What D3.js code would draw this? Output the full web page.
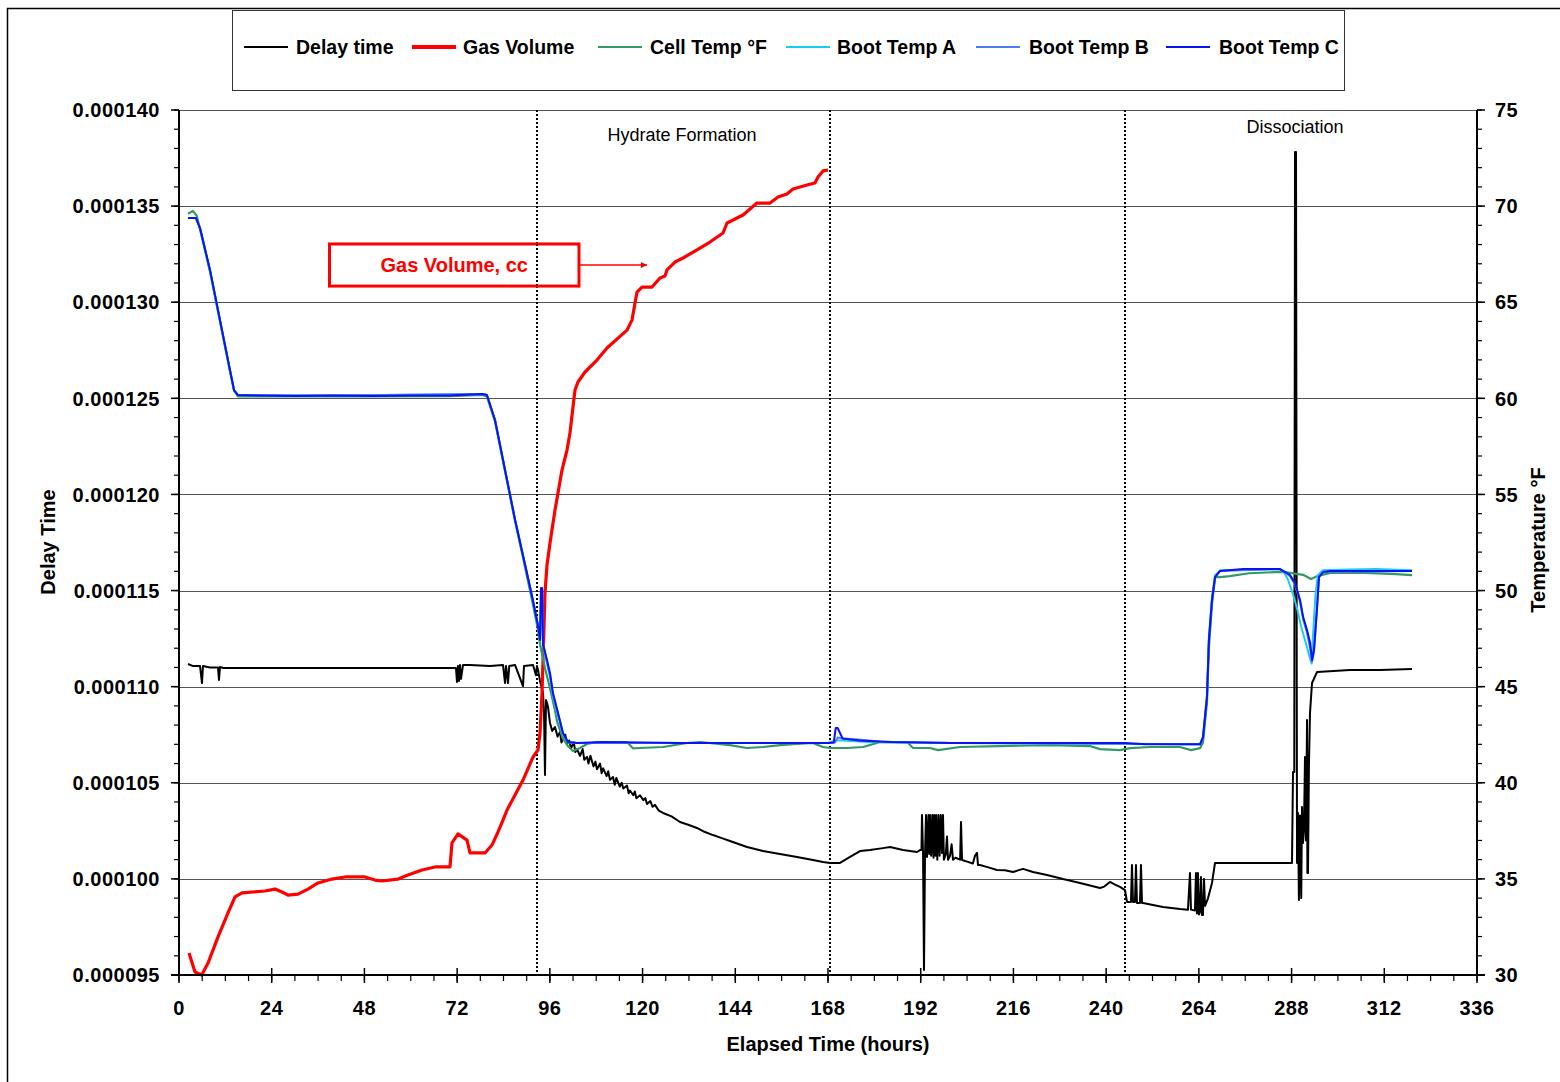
<!DOCTYPE html>
<html><head><meta charset="utf-8">
<script src="https://cdn.jsdelivr.net/npm/d3@7"></script>
<style>body{margin:0;background:#fff} svg{display:block} text{font-family:"Liberation Sans",Arial,sans-serif}</style>
</head><body><svg id="c" width="1560" height="1082"></svg>
<script>
// ---------- DATA ----------
const xTicks = [0,24,48,72,96,120,144,168,192,216,240,264,288,312,336];
const delayTicks = [95e-6,100e-6,105e-6,110e-6,115e-6,120e-6,125e-6,130e-6,135e-6,140e-6];
const tempTicks = [30,35,40,45,50,55,60,65,70,75];
const phaseLines = [92.67,168.64,244.88];
const seriesNames = ["Delay time","Gas Volume","Cell Temp °F","Boot Temp A","Boot Temp B","Boot Temp C"];
const seriesColors = ["#000000","#ff0000","#339966","#1ecbf0","#4f7cf5","#0a14f0"];

// [hours, delay time (s)]
const delayTime = [
[2.33,111.18e-6],[3.5,111.08e-6],[5.44,111.08e-6],[5.95,110.19e-6],[6.21,111.08e-6],[8,111.0e-6],[10.1,111.0e-6],[10.35,110.35e-6],[10.61,111.02e-6],[11.5,110.97e-6],[13.72,110.97e-6],[31.3,110.97e-6],[57.2,110.97e-6],[71.7,110.97e-6],[71.96,110.24e-6],[72.22,111.08e-6],[72.48,110.3e-6],[72.74,111.13e-6],[73.0,110.4e-6],[73.52,111.13e-6],[75.33,111.13e-6],[80.5,111.08e-6],[83.87,111.13e-6],[84.39,110.19e-6],[84.65,111.08e-6],[85.16,110.19e-6],[85.5,111.08e-6],[86.98,111.13e-6],[89.05,110.03e-6],[89.31,111.08e-6],[91.64,111.13e-6],[92.4,110.6e-6],[92.67,111.08e-6],[92.93,110.87e-6],[93.45,110.3e-6],[94.23,109.67e-6],[94.5,108.5e-6],[94.74,105.4e-6],[95.0,109.3e-6],[95.26,109.15e-6],[95.52,108.94e-6],
[96.04,108.11e-6],[96.6,107.7e-6],[97.33,107.9e-6],[98.0,107.4e-6],[98.63,107.65e-6],[99.0,107.1e-6],[99.4,107.3e-6],[100.0,107.5e-6],[100.44,107.0e-6],[101.0,107.2e-6],[101.5,106.8e-6],[102.2,107.1e-6],[102.6,106.6e-6],[103.03,106.75e-6],[103.8,106.4e-6],[104.5,106.75e-6],[104.9,106.2e-6],[105.62,106.35e-6],[106.0,106.0e-6],[106.5,106.4e-6],[107.3,105.85e-6],[107.8,106.1e-6],[108.2,105.7e-6],[109.0,106.0e-6],[109.4,105.5e-6],[109.8,105.75e-6],[110.7,105.35e-6],[111.1,105.6e-6],[111.57,105.15e-6],[112.35,105.3e-6],[112.8,104.9e-6],[113.2,105.25e-6],[114.1,104.8e-6],[114.6,105.0e-6],[115.0,104.7e-6],[115.97,104.85e-6],[116.4,104.45e-6],[116.74,104.6e-6],[117.6,104.35e-6],[118.0,104.55e-6],[118.4,104.2e-6],[119.33,104.35e-6],[120.2,104.1e-6],[120.7,104.2e-6],[121.15,103.9e-6],[122.0,104.05e-6],[122.6,103.75e-6],[123.2,103.85e-6],[124.2,103.55e-6],[125.29,103.43e-6],
[127.5,103.25e-6],[129.69,102.96e-6],[132.0,102.8e-6],[134.09,102.65e-6],[136.0,102.45e-6],[138.23,102.28e-6],[140.5,102.12e-6],[142.63,101.97e-6],[145.0,101.8e-6],[147.03,101.66e-6],[151.17,101.45e-6],[155.55,101.29e-6],[159.98,101.14e-6],[164.12,100.98e-6],[166.71,100.88e-6],[168.52,100.83e-6],[171.11,100.83e-6],[173.7,101.14e-6],[176.29,101.45e-6],[178.87,101.5e-6],[182.24,101.6e-6],[184.05,101.66e-6],[187.42,101.5e-6],[189.23,101.45e-6],[191.04,101.4e-6],[191.82,101.5e-6],
[192.2,101.5e-6],[192.33,103.32e-6],[192.6,101.4e-6],[192.85,95.26e-6],[193.11,101.2e-6],[193.37,103.32e-6],[193.63,101.14e-6],[194.0,103.32e-6],[194.2,101.3e-6],[194.4,103.32e-6],[194.7,101.2e-6],[195.0,103.32e-6],[195.3,101.1e-6],[195.5,103.32e-6],[195.8,101.2e-6],[196.0,103.32e-6],[196.3,101.0e-6],[196.6,103.32e-6],[196.9,101.2e-6],[197.2,103.32e-6],[197.5,101.35e-6],[197.77,103.32e-6],[198.0,101.0e-6],[198.5,101.3e-6],[198.8,102.2e-6],[199.06,101.0e-6],[199.58,101.2e-6],[200.0,101.8e-6],[200.36,101.0e-6],[201.0,101.1e-6],[202.2,101.0e-6],[202.43,102.96e-6],[202.7,100.98e-6],[204.0,100.9e-6],[205.5,100.8e-6],[206.05,101.2e-6],[206.57,101.35e-6],[206.83,100.72e-6],[207.35,100.72e-6],[209.5,100.6e-6],[211.74,100.46e-6],[213.8,100.45e-6],[215.89,100.36e-6],[218.48,100.52e-6],[221.07,100.36e-6],[224.69,100.2e-6],[228.83,99.99e-6],[233.23,99.79e-6],[238.41,99.53e-6],[239.5,99.6e-6],[240.99,99.84e-6],[242.3,99.7e-6],[243.58,99.58e-6],[244.88,99.42e-6],[245.4,98.8e-6],[246.43,98.8e-6],[246.69,100.72e-6],[246.95,98.8e-6],[247.46,98.8e-6],[247.72,100.72e-6],[247.98,98.75e-6],[248.76,98.75e-6],[249.02,100.72e-6],[249.28,98.75e-6],[249.54,98.75e-6],[254.71,98.54e-6],[259.11,98.43e-6],[261.18,98.4e-6],[261.7,100.31e-6],[261.96,98.4e-6],[262.99,98.35e-6],[263.25,100.31e-6],[263.5,98.2e-6],[263.77,100.31e-6],[264.03,98.15e-6],[264.3,98.3e-6],[264.55,100.1e-6],[264.8,98.12e-6],[265.07,98.12e-6],[265.33,100.0e-6],[265.6,98.6e-6],[266.36,98.99e-6],[267.4,99.79e-6],[268.18,100.83e-6],[270.0,100.83e-6],[277.24,100.83e-6],[287.6,100.83e-6],[288.11,100.83e-6],[288.37,105.56e-6],[288.7,105.56e-6],[288.89,137.82e-6],[289.15,137.82e-6],[289.41,100.83e-6],[289.67,103.43e-6],[289.9,98.9e-6],[290.18,103.3e-6],[290.5,99.0e-6],[290.7,103.74e-6],[290.96,101.87e-6],[291.2,102.5e-6],[291.48,106.34e-6],[291.74,102.0e-6],[292.0,108.27e-6],[292.1,100.31e-6],[292.25,100.31e-6],[292.5,106.0e-6],[292.77,108.63e-6],[293.29,110.19e-6],[294.58,110.76e-6],[303.12,110.87e-6],[310.89,110.87e-6],[319.17,110.92e-6]
];

// [hours, gas volume (cc), plotted on the secondary axis]
const gasVolume = [
[2.59,31.14],[4.14,30.16],[5.88,30.0],[7.51,30.62],[10.10,31.98],[12.68,33.23],[14.50,34.06],[16.31,34.27],[22.26,34.37],[24.85,34.47],[26.66,34.32],[28.22,34.16],[30.80,34.21],[33.39,34.47],[35.98,34.79],[39.61,34.99],[42.97,35.10],[48.15,35.10],[50.74,34.94],[52.55,34.89],[56.69,34.99],[59.28,35.20],[62.90,35.46],[66.27,35.62],[70.15,35.62],[70.67,36.87],[72.22,37.34],[74.55,37.02],[75.33,36.35],[79.21,36.35],[81.02,36.76],[82.58,37.44],[83.87,38.06],[84.91,38.58],[89.05,40.14],[91.64,41.34],[92.93,41.71],[93.45,42.59],[93.97,44.67],[94.23,46.39],[94.74,49.87],[95.26,51.33],[96.04,52.47],[97.33,54.19],[98.11,55.08],[99.14,56.27],[100.44,57.31],[101.21,58.20],[101.99,59.55],[102.51,60.43],[103.28,60.85],[105.10,61.37],[108.20,61.99],[110.79,62.62],[115.97,63.55],[117.26,64.07],[118.04,64.96],[118.56,65.53],[119.85,65.79],[122.44,65.79],[124.51,66.26],[125.80,66.36],[126.32,66.68],[128.39,67.09],[130.46,67.30],[134.09,67.72],[137.45,68.13],[140.82,68.60],[141.86,69.12],[143.93,69.33],[146.00,69.54],[149.62,70.16],[152.99,70.16],[155.06,70.47],[157.39,70.63],[158.94,70.89],[162.56,71.10],[164.64,71.20],[165.41,71.51],[166.71,71.83],[168.00,71.88]
];

// [hours, °F]
const cellTemp = [
[2.33,69.6],[3.6,69.75],[4.6,69.5],[5.44,68.8],[8.02,66.6],[10.61,64.0],[13.2,61.4],[14.24,60.4],[15.27,60.1],[30,60.1],[50,60.1],[70,60.12],[78.5,60.18],[79.7,60.1],[81.8,58.8],[84.4,56.2],[87.0,53.6],[89.6,51.2],[91.6,49.3],[92.9,48.0],[93.45,47.2],[94.7,46.0],[96.04,44.9],[97.3,43.8],[97.85,43.2],[99.4,42.3],[100.7,41.9],[101.99,41.65],[103.8,41.81],[105.6,42.02],[108.2,42.12],[115.97,42.12],[117.5,41.79],[119.3,41.81],[125.3,41.86],[131.5,42.07],[134.9,42.12],[142.6,41.96],[147.0,41.81],[151.2,41.86],[155.6,41.96],[160.0,42.02],[164.1,42.07],[166.7,41.86],[168.5,41.81],[172.9,41.81],[177.1,41.86],[181.5,42.12],[188.5,42.12],[190.0,41.81],[194.4,41.81],[196.5,41.7],[202.2,41.86],[212.5,41.91],[225.5,41.96],[235.8,41.91],[238.4,41.75],[243.6,41.7],[246.2,41.8],[251.4,41.86],[259.1,41.86],[262.0,41.7],[264.3,41.8],[265.07,42.1],[266.1,44.2],[266.6,47.0],[267.4,49.3],[268.2,50.7],[269.5,50.7],[272.0,50.75],[277.0,50.9],[285.0,50.97],[287.6,50.92],[291.0,50.82],[293.0,50.6],[294.6,50.75],[298.0,50.92],[307.0,50.92],[315.0,50.85],[319.17,50.8]
];
const bootTempA = [
[2.33,69.38],[4.4,69.38],[5.44,68.86],[8.02,66.68],[10.61,64.07],[13.2,61.47],[14.24,60.43],[15.27,60.17],[40,60.15],[78.5,60.22],[79.7,60.17],[81.8,58.87],[84.4,56.27],[87.0,53.67],[89.6,51.33],[91.6,49.51],[92.9,48.21],[93.45,47.4],[93.7,49.8],[94.0,49.8],[94.23,47.1],[95.26,46.2],[96.04,45.5],[96.8,44.5],[98.11,43.5],[99.4,42.5],[100.7,42.1],[103,42.07],[168,42.07],[170.0,42.2],[172,42.2],[178,42.12],[200,42.07],[264.3,42.0],[265.07,42.4],[266.1,44.6],[266.6,47.6],[267.4,49.7],[268.2,50.8],[269.5,51.05],[285.0,51.12],[286.0,50.95],[287.0,50.6],[288.4,49.8],[289.5,49.0],[290.5,48.1],[291.5,47.4],[292.6,46.6],[293.2,46.2],[293.5,47.5],[294.2,49.8],[294.8,50.8],[296.0,51.05],[303,51.1],[310,51.12],[319.17,51.05]
];
const bootTempB = [
[2.33,69.38],[4.4,69.38],[5.44,68.86],[8.02,66.68],[10.61,64.07],[13.2,61.47],[14.24,60.43],[15.27,60.17],[40,60.15],[78.5,60.22],[79.7,60.17],[81.8,58.87],[84.4,56.27],[87.0,53.67],[89.6,51.33],[91.6,49.51],[92.9,48.21],[93.45,47.45],[93.7,50.0],[94.0,50.0],[94.23,47.3],[95.26,46.3],[96.04,45.6],[96.8,44.6],[98.11,43.6],[99.4,42.55],[100.7,42.12],[103,42.07],[168,42.07],[169.8,42.1],[170.5,42.35],[172,42.3],[176,42.25],[182,42.12],[200,42.07],[264.3,42.0],[265.07,42.36],[266.1,44.44],[266.6,47.4],[267.4,49.5],[268.2,50.7],[269.5,51.02],[285.0,51.12],[286.3,50.95],[287.6,50.75],[288.9,50.3],[290.2,49.4],[291.0,48.5],[292.0,47.8],[292.8,47.0],[293.3,46.3],[293.8,46.8],[294.6,49.1],[295.1,50.7],[296.2,50.97],[319.17,51.02]
];
const bootTempC = [
[2.33,69.38],[4.4,69.38],[5.44,68.86],[8.02,66.68],[10.61,64.07],[13.2,61.47],[14.24,60.43],[15.27,60.17],[20,60.15],[30,60.12],[40,60.15],[50,60.12],[60,60.15],[70,60.15],[78.5,60.22],[79.7,60.17],[81.8,58.87],[84.4,56.27],[87.0,53.67],[89.6,51.33],[91.6,49.51],[92.9,48.21],[93.45,47.43],[93.7,50.13],[94.0,50.13],[94.23,47.2],[95.26,46.39],[96.04,45.7],[96.8,44.67],[98.11,43.63],[99.4,42.59],[100.7,42.12],[103,42.07],[110,42.12],[130,42.07],[150,42.07],[168,42.07],[169.5,42.1],[170.0,42.85],[170.5,42.85],[171.8,42.3],[176,42.2],[184.5,42.12],[200,42.07],[220,42.07],[240,42.07],[244.9,42.07],[250,42.0],[264.3,42.0],[265.07,42.36],[266.1,44.44],[266.6,47.4],[267.4,49.5],[268.2,50.7],[269.5,51.02],[275.5,51.12],[285.0,51.12],[286.3,50.97],[287.6,50.81],[288.9,50.39],[290.2,49.51],[291.0,48.62],[292.0,47.95],[292.8,47.27],[293.3,46.39],[293.8,46.91],[294.6,49.14],[295.1,50.70],[296.2,50.97],[298,51.02],[319.17,51.02]
];

// annotations (data units)
const annotBox = {h0:38.96, h1:103.54, t0:68.03, t1:65.84, arrowTo:121.15, label:"Gas Volume, cc"};
const phaseLabels = [{text:"Hydrate Formation", h:130.2, t:73.39},{text:"Dissociation", h:288.9, t:73.8}];

// ---------- CHART ----------
const svg = d3.select('#c');
const L=179,R=1477,T=110,B=975;
const x = d3.scaleLinear().domain([0,336]).range([L,R]);
const yD = d3.scaleLinear().domain([95e-6,140e-6]).range([B,T]);
const yT = d3.scaleLinear().domain([30,75]).range([B,T]);

// outer frame
svg.append('rect').attr('x',7.5).attr('y',8.5).attr('width',1600).attr('height',1100)
  .attr('fill','none').attr('stroke','#000').attr('stroke-width',1.5);

// gridlines
svg.append('g').selectAll('line').data(delayTicks.slice(1)).join('line')
  .attr('x1',L).attr('x2',R).attr('y1',d=>Math.round(yD(d))+0.5).attr('y2',d=>Math.round(yD(d))+0.5)
  .attr('stroke','#555').attr('stroke-width',1.2);

// phase dotted lines
svg.append('g').selectAll('line').data(phaseLines).join('line')
  .attr('x1',d=>Math.round(x(d))).attr('x2',d=>Math.round(x(d))).attr('y1',T).attr('y2',B)
  .attr('stroke','#000').attr('stroke-width',2).attr('stroke-dasharray','2,2');

// series
const lineD = d3.line().x(d=>x(d[0])).y(d=>yD(d[1]));
const lineT = d3.line().x(d=>x(d[0])).y(d=>yT(d[1]));
const g = svg.append('g').attr('fill','none').attr('stroke-linejoin','round');
g.append('path').attr('d',lineD(delayTime)).attr('stroke',seriesColors[0]).attr('stroke-width',2);
g.append('path').attr('d',lineT(gasVolume)).attr('stroke',seriesColors[1]).attr('stroke-width',3.2);
g.append('path').attr('d',lineT(cellTemp)).attr('stroke',seriesColors[2]).attr('stroke-width',2.2);
g.append('path').attr('d',lineT(bootTempA)).attr('stroke',seriesColors[3]).attr('stroke-width',2);
g.append('path').attr('d',lineT(bootTempB)).attr('stroke',seriesColors[4]).attr('stroke-width',2);
g.append('path').attr('d',lineT(bootTempC)).attr('stroke',seriesColors[5]).attr('stroke-width',2);

// axes
const ax = svg.append('g').attr('stroke','#000');
ax.append('line').attr('x1',L).attr('x2',L).attr('y1',T).attr('y2',B).attr('stroke-width',2);
ax.append('line').attr('x1',R).attr('x2',R).attr('y1',T).attr('y2',B).attr('stroke-width',2);
ax.append('line').attr('x1',L-8).attr('x2',R+8).attr('y1',B).attr('y2',B).attr('stroke-width',2);

// left ticks
const minorD = d3.range(95,141).map(v=>v*1e-6);
ax.selectAll('.lmin').data(minorD).join('line').attr('x1',L-5).attr('x2',L)
  .attr('y1',d=>yD(d)).attr('y2',d=>yD(d)).attr('stroke-width',1.2);
ax.selectAll('.lmaj').data(delayTicks).join('line').attr('x1',L-8).attr('x2',L)
  .attr('y1',d=>yD(d)).attr('y2',d=>yD(d)).attr('stroke-width',1.5);
const fmt = d3.format('.6f');
svg.append('g').selectAll('text').data(delayTicks).join('text')
  .attr('x',160).attr('y',d=>yD(d)).attr('dy','0.36em').attr('text-anchor','end')
  .attr('font-size',20).attr('font-weight','bold').attr('letter-spacing',0.5).text(d=>fmt(d));

// right ticks
const minorT = d3.range(30,76);
ax.selectAll('.rmin').data(minorT).join('line').attr('x1',R).attr('x2',R+5)
  .attr('y1',d=>yT(d)).attr('y2',d=>yT(d)).attr('stroke-width',1.2);
ax.selectAll('.rmaj').data(tempTicks).join('line').attr('x1',R).attr('x2',R+8)
  .attr('y1',d=>yT(d)).attr('y2',d=>yT(d)).attr('stroke-width',1.5);
svg.append('g').selectAll('text').data(tempTicks).join('text')
  .attr('x',1495).attr('y',d=>yT(d)).attr('dy','0.36em').attr('text-anchor','start')
  .attr('font-size',20).attr('font-weight','bold').attr('letter-spacing',0.5).text(d=>d);

// bottom ticks
const minorX = d3.range(0,337,6);
ax.selectAll('.bmin').data(minorX).join('line').attr('x1',d=>x(d)).attr('x2',d=>x(d))
  .attr('y1',B).attr('y2',B+6).attr('stroke-width',1.2);
ax.selectAll('.bmaj').data(xTicks).join('line').attr('x1',d=>x(d)).attr('x2',d=>x(d))
  .attr('y1',B-7).attr('y2',B+8).attr('stroke-width',1.5);
svg.append('g').selectAll('text').data(xTicks).join('text')
  .attr('x',d=>x(d)).attr('y',1015).attr('text-anchor','middle')
  .attr('font-size',20).attr('font-weight','bold').attr('letter-spacing',0.5).text(d=>d);

// axis titles
svg.append('text').attr('x',828).attr('y',1051).attr('text-anchor','middle')
  .attr('font-size',20).attr('font-weight','bold').text('Elapsed Time (hours)');
svg.append('text').attr('transform','translate(55,542) rotate(-90)').attr('text-anchor','middle')
  .attr('font-size',20).attr('font-weight','bold').text('Delay Time');
svg.append('text').attr('transform','translate(1545,540) rotate(-90)').attr('text-anchor','middle')
  .attr('font-size',20).attr('font-weight','bold').text('Temperature °F');

// phase labels
svg.append('g').selectAll('text').data(phaseLabels).join('text')
  .attr('x',d=>x(d.h)).attr('y',d=>yT(d.t)).attr('text-anchor','middle')
  .attr('font-size',18).text(d=>d.text);

// annotation box + arrow
svg.append('defs').append('marker').attr('id','arr').attr('viewBox','0 0 10 10')
  .attr('refX',10).attr('refY',5).attr('markerWidth',8).attr('markerHeight',6)
  .attr('markerUnits','userSpaceOnUse').attr('orient','auto')
  .append('path').attr('d','M0,0L10,5L0,10Z').attr('fill','#ff0000');
svg.append('rect').attr('x',x(annotBox.h0)).attr('y',yT(annotBox.t0))
  .attr('width',x(annotBox.h1)-x(annotBox.h0)).attr('height',yT(annotBox.t1)-yT(annotBox.t0))
  .attr('fill','#fff').attr('stroke','#ff0000').attr('stroke-width',3);
const tMid=(annotBox.t0+annotBox.t1)/2;
svg.append('line').attr('x1',x(annotBox.h1)).attr('x2',x(annotBox.arrowTo))
  .attr('y1',yT(tMid)).attr('y2',yT(tMid)).attr('stroke','#ff0000').attr('stroke-width',1.5)
  .attr('marker-end','url(#arr)');
svg.append('text').attr('x',(x(annotBox.h0)+x(annotBox.h1))/2).attr('y',yT(tMid)).attr('dy','0.36em')
  .attr('text-anchor','middle').attr('font-size',20).attr('font-weight','bold').attr('fill','#ff0000')
  .text(annotBox.label);
svg.append('line').attr('x1',Math.round(x(phaseLines[0]))).attr('x2',Math.round(x(phaseLines[0])))
  .attr('y1',yT(annotBox.t0)).attr('y2',yT(annotBox.t1))
  .attr('stroke','#000').attr('stroke-width',2).attr('stroke-dasharray','2,2');

// legend
svg.append('rect').attr('x',232.5).attr('y',10.5).attr('width',1112).attr('height',80)
  .attr('fill','#fff').attr('stroke','#333').attr('stroke-width',1);
const legLineX = [244,412,598,786,976,1166];
const legTextX = [296,463,650,837,1029,1219];
const legW = [2,4,2,2,2,2];
const lg = svg.append('g');
seriesNames.forEach((n,i)=>{
  lg.append('line').attr('x1',legLineX[i]).attr('x2',legLineX[i]+44).attr('y1',47).attr('y2',47)
    .attr('stroke',seriesColors[i]).attr('stroke-width',legW[i]);
  lg.append('text').attr('x',legTextX[i]).attr('y',54).attr('font-size',19.5).attr('font-weight','bold').text(n);
});
</script></body></html>
